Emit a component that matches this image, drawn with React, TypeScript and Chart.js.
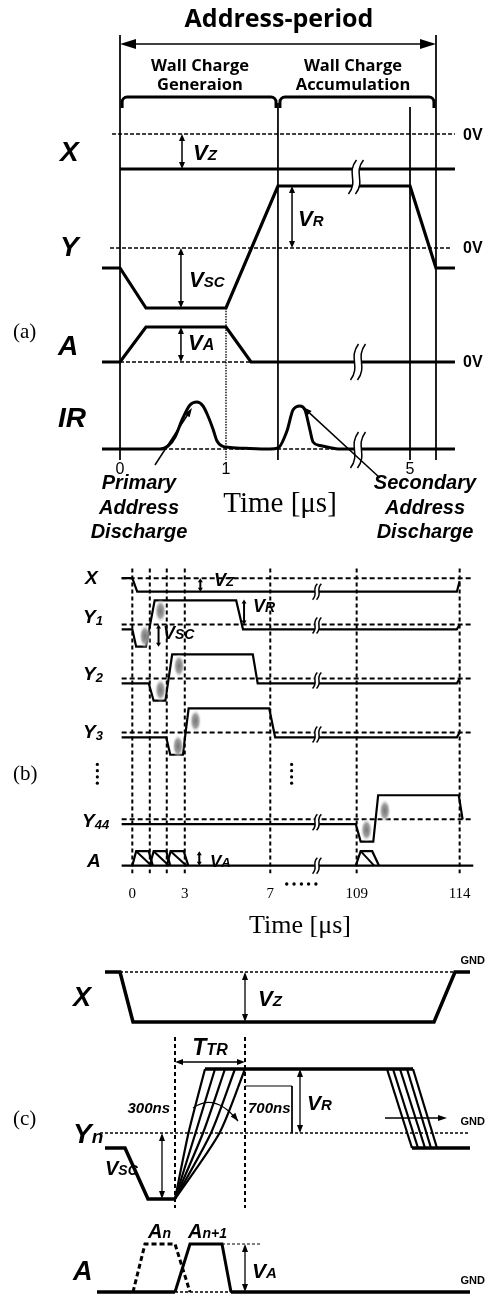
import React, { useEffect, useRef } from "react";
import { Chart, registerables } from "chart.js";

Chart.register(...registerables);

const W = 490;

// ================= Panel (a): x = time [µs, diagram], y = stacked level units =================
const aRowZero = { X: -13.4, Y: -24.8, A: -36.2, IR: -44.9 };
const aXTime = [0, 3.16];
const aXLevel = [-3.5, -3.5];
const aYTime = [-0.17, 0, 0.245, 1.0, 1.49, 2.736, 2.981, 3.16];
const aYLevel = [-2.0, -2.0, -6.0, -6.0, 6.2, 6.2, -2.0, -2.0];
const aATime = [-0.17, 0, 0.245, 1.0, 1.236, 3.16];
const aALevel = [0, 0, 3.5, 3.5, 0, 0];
const aIRTime = [-0.17, 0.377, 0.453, 0.519, 0.585, 0.66, 0.726, 0.783, 0.83, 0.877, 0.915, 0.962, 1.038, 1.226, 1.415, 1.491, 1.575, 1.632, 1.698, 1.745, 1.792, 1.821, 1.887, 1.953, 2.075, 3.16];
const aIRLevel = [0, 0, 0.3, 1.2, 2.9, 4.4, 4.7, 4.3, 3.3, 2.0, 0.8, 0.3, 0.15, 0.05, 0, 0.1, 1.8, 3.9, 4.3, 3.9, 1.9, 0.7, 0.35, 0.2, 0, 0];
const aZeroStart = [-0.075, -0.094, -0.17, 0.35];
const aZeroEnd = [3.16, 3.13, 1.236, 2.1];
const aBoundTime = [0, 2.981, 1.49, 2.736];
const aBoundTop = [-3.5, -3.5, -10.3, -10.7];
const aBoundBottom = -46;
const aDottedTime = 1.0;
const aDottedTop = -30.8;
const aTickPos = [0, 1, 2.736];
const aTickLabels = ["0", "1", "5"];

// ================= Panel (b) =================
const bRowZero = { X: -2.2, Y1: -7.0, Y2: -12.6, Y3: -18.2, Y44: -27.2, A: -32.0 };
const bSpan = [-0.61, 19.5];
const bXTime = [-0.61, 0, 0.28, 18.56, 18.72];
const bXLevel = [0, 0, -1.4, -1.4, -0.3];
const bY1Time = [-0.61, 0, 0.22, 0.78, 1.28, 5.94, 6.33, 18.56, 18.72];
const bY2Time = [-0.61, 0.94, 1.22, 1.89, 2.28, 6.89, 7.17, 18.56, 18.72];
const bY3Time = [-0.61, 1.94, 2.17, 2.89, 3.22, 7.83, 8.17, 18.56, 18.72];
const bYLevel = [-0.5, -0.5, -2.3, -2.3, 2.5, 2.5, -0.5, -0.5, 0];
const bY44Time = [-0.61, 12.78, 13.06, 13.78, 14.06, 18.67, 18.89];
const bY44Level = [-0.5, -0.5, -2.3, -2.3, 2.5, 2.5, 0];
const bAPulse1 = [0, 0.22, 0.94, 1.17];
const bAPulse2 = [1, 1.22, 1.94, 2.17];
const bAPulse3 = [1.97, 2.19, 2.94, 3.2];
const bAPulse4 = [12.78, 13.06, 13.72, 14.11];
const bAPulseLevel = [0, 1.5, 1.5, 0];
const bADiagStart = [0.22, 1.22, 2.19, 13.06];
const bADiagEnd = [1.1, 2.1, 3.1, 13.83];
const bGridTime = [0, 1, 1.97, 3.0, 7.89, 12.83, 18.72];
const bGridTop = -1.2;
const bGridBottom = -32.8;
const bTickPos = [0, 3.0, 7.89, 12.83, 18.72];
const bTickLabels = ["0", "3", "7", "109", "114"];
const bBlobTime = [0.72, 1.61, 1.61, 2.67, 2.61, 3.61, 13.39, 14.44];
const bBlobRow = ["Y1", "Y1", "Y2", "Y2", "Y3", "Y3", "Y44", "Y44"];
const bBlobLevel = [-1.2, 1.4, -1.2, 1.3, -1.4, 1.2, -1.1, 0.9];
const bVDotTime = [-2.0, 9.11];
const bVDotY = [-21.5, -22.15, -22.8, -23.45];
const bHDotTime = [8.83, 9.25, 9.67, 10.08, 10.5];
const bHDotY = -33.9;

// ================= Panel (c): x = time [ns] =================
const cRowZero = { X: -2.7, Y: -18.8, A: -34.7 };
const cXTime = [-700, -550, -420, 2590, 2800, 2950];
const cXLevel = [0, 0, -5.0, -5.0, 0, 0];
const cYnTime = [-700, -500, -270, 0];
const cYnLevel = [-1.5, -1.5, -6.6, -6.6];
const cRampTop = [300, 400, 500, 600, 700];
const cRampMid = [135, 205, 280, 360, 445];
const cRampLevel = [-6.6, 0, 6.4];
const cPlateauTime = [300, 2380];
const cPlateauLevel = 6.4;
const cFallTop = [2120, 2180, 2250, 2320, 2380];
const cFallBottom = [2370, 2430, 2500, 2560, 2620];
const cTailTime = [2370, 2950];
const cTailLevel = -1.5;
const cAnTime = [-420, -300, 0, 150];
const cAn1Time = [0, 150, 470, 560];
const cPulseLevel = [0, 4.8, 4.8, 0];
const cVARefTime = [470, 850];
const cTtrTime = [0, 700];
const cTtrTop = -9.2;
const cTtrBottom = -26.3;
const cBoxTime = [700, 1170, 1170];
const cBoxLevel = [4.7, 4.7, 0];

// ---------------- helpers ----------------
const SANS = '"Liberation Sans", Arial, sans-serif';
const SERIF = '"Liberation Serif", "Times New Roman", serif';
const TITLE = '"Open Sans", "DejaVu Sans", sans-serif';
const FONTS: any = {
  bi: ["italic bold", SANS],
  b: ["bold", SANS],
  sans: ["", SANS],
  serif: ["", SERIF],
  title: ["bold", TITLE],
};

function pts(t: number[], lev: number[], row: number) {
  return t.map((x, i) => ({ x, y: row + lev[i] }));
}
function hseg(x0: number, x1: number, y: number) {
  return [{ x: x0, y }, { x: x1, y }];
}
function vseg(x: number, y0: number, y1: number) {
  return [{ x, y: y0 }, { x, y: y1 }];
}
function line(data: any[], width = 3, dash: number[] = [], opts: any = {}) {
  return {
    data,
    borderColor: "#000",
    backgroundColor: "#000",
    borderWidth: width,
    borderDash: dash,
    pointRadius: 0,
    pointHoverRadius: 0,
    fill: false,
    tension: 0,
    order: 2,
    clip: false,
    ...opts,
  };
}
function dots(data: any[], r = 1.7) {
  return {
    data,
    showLine: false,
    pointRadius: r,
    pointBackgroundColor: "#000",
    pointBorderWidth: 0,
    borderColor: "#000",
    order: 1,
    clip: false,
  };
}

function drawRich(ctx: any, parts: any[], x: number, y: number, align: string, fkey: string) {
  const [style, fam] = FONTS[fkey];
  let total = 0;
  const ws = parts.map((p: any) => {
    ctx.font = `${style} ${p[1]}px ${fam}`;
    const w = ctx.measureText(p[0]).width;
    total += w;
    return w;
  });
  let cx = align === "center" ? x - total / 2 : align === "right" ? x - total : x;
  ctx.textAlign = "left";
  ctx.textBaseline = "alphabetic";
  ctx.fillStyle = "#000";
  parts.forEach((p: any, i: number) => {
    ctx.font = `${style} ${p[1]}px ${fam}`;
    ctx.fillText(p[0], cx, y + (p[2] || 0));
    cx += ws[i];
  });
}

function head(ctx: any, x: number, y: number, ang: number, len: number, w: number) {
  const c = Math.cos(ang), s = Math.sin(ang);
  ctx.beginPath();
  ctx.moveTo(x, y);
  ctx.lineTo(x - len * c + (w / 2) * s, y - len * s - (w / 2) * c);
  ctx.lineTo(x - len * c - (w / 2) * s, y - len * s + (w / 2) * c);
  ctx.closePath();
  ctx.fill();
}

function drawBreak(ctx: any, cx: number, cy: number, h: number, gap: number, amp: number) {
  const hh = h / 2;
  const curve = (ox: number) => [
    [cx + ox - amp * 0.8, cy + hh],
    [cx + ox + amp * 1.3, cy + hh * 0.2],
    [cx + ox - amp * 1.3, cy - hh * 0.2],
    [cx + ox + amp * 0.8, cy - hh],
  ];
  const L = curve(-gap / 2), R = curve(gap / 2);
  ctx.beginPath();
  ctx.moveTo(L[0][0], L[0][1]);
  ctx.bezierCurveTo(L[1][0], L[1][1], L[2][0], L[2][1], L[3][0], L[3][1]);
  ctx.lineTo(R[3][0], R[3][1]);
  ctx.bezierCurveTo(R[2][0], R[2][1], R[1][0], R[1][1], R[0][0], R[0][1]);
  ctx.closePath();
  ctx.fillStyle = "#fff";
  ctx.fill();
  ctx.strokeStyle = "#000";
  ctx.lineWidth = 1.5;
  [L, R].forEach((C) => {
    ctx.beginPath();
    ctx.moveTo(C[0][0], C[0][1]);
    ctx.bezierCurveTo(C[1][0], C[1][1], C[2][0], C[2][1], C[3][0], C[3][1]);
    ctx.stroke();
  });
}

function annot(spec: any, top: number) {
  return {
    id: "annot",
    afterDatasetsDraw(chart: any) {
      const ctx = chart.ctx;
      const X = (v: number) => chart.scales.x.getPixelForValue(v);
      const Y = (v: number) => chart.scales.y.getPixelForValue(v);
      ctx.save();
      (spec.breaks || []).forEach((b: any) => drawBreak(ctx, X(b[0]), Y(b[1]), b[2], b[3], b[4]));
      (spec.braces || []).forEach((b: any) => {
        const x0 = X(b[0]), x1 = X(b[1]), yt = Y(b[2]), ye = Y(b[3]);
        const r = 5;
        ctx.beginPath();
        ctx.moveTo(x0, ye);
        ctx.arcTo(x0, yt, x0 + r, yt, r);
        ctx.lineTo(x1 - r, yt);
        ctx.arcTo(x1, yt, x1, ye, r);
        ctx.lineTo(x1, ye);
        ctx.lineWidth = 3;
        ctx.strokeStyle = "#000";
        ctx.stroke();
      });
      ctx.strokeStyle = "#000";
      ctx.fillStyle = "#000";
      (spec.arrows || []).forEach((a: any) => {
        const x0 = X(a[0]), y0 = Y(a[1]), x1 = X(a[2]), y1 = Y(a[3]);
        const [both, len, w, lw] = a.slice(4);
        const ang = Math.atan2(y1 - y0, x1 - x0);
        ctx.lineWidth = lw;
        ctx.beginPath();
        ctx.moveTo(x0 + (both ? Math.cos(ang) * len * 0.6 : 0), y0 + (both ? Math.sin(ang) * len * 0.6 : 0));
        ctx.lineTo(x1 - Math.cos(ang) * len * 0.6, y1 - Math.sin(ang) * len * 0.6);
        ctx.stroke();
        head(ctx, x1, y1, ang, len, w);
        if (both) head(ctx, x0, y0, ang + Math.PI, len, w);
      });
      (spec.curves || []).forEach((c: any) => {
        const x0 = X(c[0]), y0 = Y(c[1]), qx = X(c[2]), qy = Y(c[3]), x1 = X(c[4]), y1 = Y(c[5]);
        ctx.lineWidth = 1.3;
        ctx.beginPath();
        ctx.moveTo(x0, y0);
        ctx.quadraticCurveTo(qx, qy, x1, y1);
        ctx.stroke();
        head(ctx, x1, y1, Math.atan2(y1 - qy, x1 - qx), 8, 6);
      });
      if (spec.ticks) {
        const t = spec.ticks;
        t.pos.forEach((p: number, i: number) => drawRich(ctx, [[t.labels[i], t.size]], X(p), t.y - top, "center", t.f));
      }
      (spec.texts || []).forEach((t: any) => drawRich(ctx, t.p, t.x, t.y - top, t.a || "left", t.f || "bi"));
      ctx.restore();
    },
  };
}

function options(xmin: number, xmax: number, h: number) {
  return {
    animation: false,
    responsive: false,
    maintainAspectRatio: false,
    events: [],
    layout: { padding: 0 },
    plugins: { legend: { display: false }, tooltip: { enabled: false }, title: { display: false } },
    scales: {
      x: { type: "linear", display: false, min: xmin, max: xmax },
      y: { type: "linear", display: false, min: -h / 10, max: 0 },
    },
  };
}

function makeBlob() {
  const c = document.createElement("canvas");
  c.width = 12;
  c.height = 24;
  const g = c.getContext("2d")!;
  g.save();
  g.translate(6, 12);
  g.scale(1, 2);
  const grd = g.createRadialGradient(0, 0, 0, 0, 0, 6);
  grd.addColorStop(0, "rgba(115,115,115,1)");
  grd.addColorStop(0.55, "rgba(150,150,150,0.9)");
  grd.addColorStop(1, "rgba(255,255,255,0)");
  g.fillStyle = grd;
  g.beginPath();
  g.arc(0, 0, 6, 0, Math.PI * 2);
  g.fill();
  g.restore();
  return c;
}

// ---------------- panel configs ----------------
const TOP_A = 0, H_A = 550;
const TOP_B = 550, H_B = 395;
const TOP_C = 945, H_C = 351;

function configA() {
  const ds: any[] = [
    line(pts(aXTime, aXLevel, aRowZero.X), 3.2),
    line(pts(aYTime, aYLevel, aRowZero.Y), 3.2),
    line(pts(aATime, aALevel, aRowZero.A), 3.2),
    line(pts(aIRTime, aIRLevel, aRowZero.IR), 3, [], { cubicInterpolationMode: "monotone" }),
  ];
  [aRowZero.X, aRowZero.Y, aRowZero.A, aRowZero.IR].forEach((r, i) =>
    ds.push(line(hseg(aZeroStart[i], aZeroEnd[i], r), 1.3, [4, 2]))
  );
  aBoundTime.forEach((t, i) => ds.push(line(vseg(t, aBoundTop[i], aBoundBottom), 1)));
  ds.push(line(vseg(aDottedTime, aDottedTop, aBoundBottom), 2, [1.5, 1.2], { borderColor: "#555" }));
  const spec = {
    breaks: [
      [2.226, -17.7, 34, 7, 5],
      [2.245, -36.2, 36, 7, 5],
      [2.245, -45.0, 36, 7, 5],
    ],
    braces: [
      [0.02, 1.472, -9.7, -10.8],
      [1.509, 2.962, -9.7, -10.8],
    ],
    arrows: [
      [0, -4.4, 2.981, -4.4, true, 16, 10, 1.5],
      [0.585, -13.4, 0.585, -16.9, true, 7, 6, 1.5],
      [1.623, -18.6, 1.623, -24.8, true, 7, 6, 1.5],
      [0.575, -24.8, 0.575, -30.8, true, 7, 6, 1.5],
      [0.575, -32.7, 0.575, -36.2, true, 7, 6, 1.5],
      [0.33, -46.5, 0.679, -40.8, false, 9, 6, 1.5],
      [2.453, -47.8, 1.726, -40.7, false, 9, 6, 1.5],
    ],
    ticks: { pos: aTickPos, labels: aTickLabels, y: 474, size: 16, f: "sans" },
    texts: [
      { p: [["Address-period", 25]], x: 279, y: 27, a: "center", f: "title" },
      { p: [["Wall Charge", 16.5]], x: 200, y: 71, a: "center", f: "title" },
      { p: [["Generaion", 16.5]], x: 200, y: 90, a: "center", f: "title" },
      { p: [["Wall Charge", 16.5]], x: 353, y: 71, a: "center", f: "title" },
      { p: [["Accumulation", 16.5]], x: 353, y: 90, a: "center", f: "title" },
      { p: [["X", 28]], x: 60, y: 161 },
      { p: [["Y", 28]], x: 60, y: 256 },
      { p: [["A", 28]], x: 58, y: 355 },
      { p: [["IR", 28]], x: 58, y: 427 },
      { p: [["0V", 16]], x: 463, y: 140, f: "b" },
      { p: [["0V", 16]], x: 463, y: 253, f: "b" },
      { p: [["0V", 16]], x: 463, y: 367, f: "b" },
      { p: [["V", 22], ["Z", 15]], x: 193, y: 160 },
      { p: [["V", 22], ["R", 15]], x: 298, y: 226 },
      { p: [["V", 22], ["SC", 15]], x: 189, y: 287 },
      { p: [["V", 22], ["A", 16]], x: 188, y: 350 },
      { p: [["Time [μs]", 29]], x: 280, y: 512, a: "center", f: "serif" },
      { p: [["Primary", 20]], x: 139, y: 489, a: "center" },
      { p: [["Address", 20]], x: 139, y: 514, a: "center" },
      { p: [["Discharge", 20]], x: 139, y: 538, a: "center" },
      { p: [["Secondary", 20]], x: 425, y: 489, a: "center" },
      { p: [["Address", 20]], x: 425, y: 514, a: "center" },
      { p: [["Discharge", 20]], x: 425, y: 538, a: "center" },
      { p: [["(a)", 21]], x: 13, y: 338, f: "serif" },
    ],
  };
  return {
    type: "line",
    data: { datasets: ds },
    options: options(-120 / 106, 370 / 106, H_A),
    plugins: [annot(spec, TOP_A)],
  };
}

function configB() {
  const blob = makeBlob();
  const ds: any[] = [];
  ds.push({
    data: bBlobTime.map((t, i) => ({ x: t, y: (bRowZero as any)[bBlobRow[i]] + bBlobLevel[i] })),
    showLine: false,
    pointStyle: blob,
    pointRadius: 6,
    order: 0,
    clip: false,
  });
  ds.push(line(pts(bXTime, bXLevel, bRowZero.X), 2.2));
  ds.push(line(pts(bY1Time, bYLevel, bRowZero.Y1), 2.2));
  ds.push(line(pts(bY2Time, bYLevel, bRowZero.Y2), 2.2));
  ds.push(line(pts(bY3Time, bYLevel, bRowZero.Y3), 2.2));
  ds.push(line(pts(bY44Time, bY44Level, bRowZero.Y44), 2.2));
  [bRowZero.X, bRowZero.Y1, bRowZero.Y2, bRowZero.Y3, bRowZero.Y44].forEach((r) =>
    ds.push(line(hseg(bSpan[0], bSpan[1], r), 2, [5, 3]))
  );
  ds.push(line(hseg(bSpan[0], bSpan[1], bRowZero.A), 2.2));
  [bAPulse1, bAPulse2, bAPulse3, bAPulse4].forEach((p) => ds.push(line(pts(p, bAPulseLevel, bRowZero.A), 2.2)));
  bADiagStart.forEach((s, i) => ds.push(line(pts([s, bADiagEnd[i]], [1.5, 0], bRowZero.A), 2)));
  bGridTime.forEach((t) => ds.push(line(vseg(t, bGridTop, bGridBottom), 2, [4, 3])));
  bVDotTime.forEach((t) => ds.push(dots(bVDotY.map((y) => ({ x: t, y })), 1.6)));
  ds.push(dots(bHDotTime.map((x) => ({ x, y: bHDotY })), 1.7));
  const spec = {
    breaks: [
      [10.56, -3.6, 16, 4, 3],
      [10.56, -7.1, 16, 4, 3],
      [10.56, -12.8, 16, 4, 3],
      [10.56, -18.4, 16, 4, 3],
      [10.56, -27.5, 16, 4, 3],
      [10.56, -32.0, 16, 4, 3],
    ],
    arrows: [
      [3.89, -2.2, 3.89, -3.6, true, 4, 5, 2],
      [6.39, -4.4, 6.39, -7.0, true, 4, 5, 2],
      [1.5, -7.0, 1.5, -9.3, true, 4, 5, 2],
      [3.83, -30.5, 3.83, -32.0, true, 4, 5, 2],
    ],
    ticks: { pos: bTickPos, labels: bTickLabels, y: 898, size: 15, f: "serif" },
    texts: [
      { p: [["X", 19]], x: 85, y: 584 },
      { p: [["Y", 19], ["1", 13, 2]], x: 83, y: 623 },
      { p: [["Y", 19], ["2", 13, 2]], x: 83, y: 680 },
      { p: [["Y", 19], ["3", 13, 2]], x: 83, y: 738 },
      { p: [["Y", 19], ["44", 13, 2]], x: 82, y: 827 },
      { p: [["A", 19]], x: 87, y: 867 },
      { p: [["V", 18], ["Z", 13]], x: 214, y: 586 },
      { p: [["V", 18], ["R", 14]], x: 253, y: 612 },
      { p: [["V", 18], ["SC", 14]], x: 163, y: 639 },
      { p: [["V", 17], ["A", 13]], x: 210, y: 867 },
      { p: [["Time [μs]", 26]], x: 300, y: 933, a: "center", f: "serif" },
      { p: [["(b)", 21]], x: 13, y: 780, f: "serif" },
    ],
  };
  return {
    type: "line",
    data: { datasets: ds },
    options: options(-129 / 18, 361 / 18, H_B),
    plugins: [annot(spec, TOP_B)],
  };
}

function configC() {
  const ds: any[] = [];
  ds.push(line(pts(cXTime, cXLevel, cRowZero.X), 3.5));
  ds.push(line(hseg(-550, 2800, cRowZero.X), 1.3, [3, 2]));
  ds.push(line(pts(cYnTime, cYnLevel, cRowZero.Y), 3.5));
  cRampTop.forEach((t, i) =>
    ds.push(line(pts([0, cRampMid[i], t], cRampLevel, cRowZero.Y), 2.2, [], { tension: 0.25 }))
  );
  ds.push(line(hseg(cPlateauTime[0], cPlateauTime[1], cRowZero.Y + cPlateauLevel), 3.5));
  cFallTop.forEach((t, i) =>
    ds.push(line(pts([t, cFallBottom[i]], [cPlateauLevel, cTailLevel], cRowZero.Y), 2.2))
  );
  ds.push(line(hseg(cTailTime[0], cTailTime[1], cRowZero.Y + cTailLevel), 3.5));
  ds.push(line(hseg(-750, 2950, cRowZero.Y), 1.3, [3, 2]));
  cTtrTime.forEach((t) => ds.push(line(vseg(t, cTtrTop, cTtrBottom), 2, [4, 3])));
  ds.push(line(pts(cBoxTime, cBoxLevel, cRowZero.Y), 1));
  ds.push(line(hseg(-780, 0, cRowZero.A), 3.5));
  ds.push(line(hseg(560, 2950, cRowZero.A), 3.5));
  ds.push(line(hseg(0, 560, cRowZero.A), 1.3, [3, 2]));
  ds.push(line(pts(cAnTime, cPulseLevel, cRowZero.A), 3, [5, 3]));
  ds.push(line(pts(cAn1Time, cPulseLevel, cRowZero.A), 3));
  ds.push(line(hseg(cVARefTime[0], cVARefTime[1], cRowZero.A + 4.8), 1, [3, 2]));
  const spec = {
    arrows: [
      [700, -2.7, 700, -7.7, true, 8, 6, 1.3],
      [0, -11.7, 700, -11.7, true, 8, 6, 1.3],
      [1250, -12.4, 1250, -18.8, true, 8, 6, 1.3],
      [-130, -18.8, -130, -25.4, true, 8, 6, 1.3],
      [700, -29.9, 700, -34.7, true, 8, 6, 1.3],
      [2100, -17.3, 2720, -17.3, false, 9, 6, 1.3],
    ],
    curves: [[180, -16.3, 400, -14.7, 630, -17.6]],
    texts: [
      { p: [["GND", 11]], x: 485, y: 964, a: "right", f: "b" },
      { p: [["GND", 11]], x: 485, y: 1125, a: "right", f: "b" },
      { p: [["GND", 11]], x: 485, y: 1284, a: "right", f: "b" },
      { p: [["X", 27]], x: 73, y: 1006 },
      { p: [["Y", 28], ["n", 19]], x: 73, y: 1143 },
      { p: [["A", 27]], x: 73, y: 1280 },
      { p: [["V", 22], ["Z", 15]], x: 258, y: 1006 },
      { p: [["T", 23], ["TR", 16]], x: 210, y: 1055, a: "center" },
      { p: [["V", 21], ["R", 15]], x: 307, y: 1110 },
      { p: [["300ns", 15]], x: 170, y: 1113, a: "right" },
      { p: [["700ns", 15]], x: 248, y: 1113 },
      { p: [["V", 20], ["SC", 14]], x: 105, y: 1175 },
      { p: [["A", 20], ["n", 14]], x: 148, y: 1238 },
      { p: [["A", 20], ["n+1", 14]], x: 188, y: 1238 },
      { p: [["V", 21], ["A", 15]], x: 252, y: 1278 },
      { p: [["(c)", 21]], x: 13, y: 1125, f: "serif" },
    ],
  };
  return {
    type: "line",
    data: { datasets: ds },
    options: options(-1750, 3150, H_C),
    plugins: [annot(spec, TOP_C)],
  };
}

function ChartPanel({ top, height, make }: { top: number; height: number; make: () => any }) {
  const ref = useRef<HTMLCanvasElement>(null);
  useEffect(() => {
    const chart = new Chart(ref.current as HTMLCanvasElement, make());
    return () => chart.destroy();
  }, []);
  return (
    <canvas
      ref={ref}
      width={W}
      height={height}
      style={{ position: "absolute", left: 0, top, width: W, height, display: "block" }}
    />
  );
}

export default function App() {
  return (
    <div style={{ position: "absolute", left: 0, top: 0, width: W, height: 1296, background: "#fff" }}>
      <ChartPanel top={TOP_A} height={H_A} make={configA} />
      <ChartPanel top={TOP_B} height={H_B} make={configB} />
      <ChartPanel top={TOP_C} height={H_C} make={configC} />
    </div>
  );
}
